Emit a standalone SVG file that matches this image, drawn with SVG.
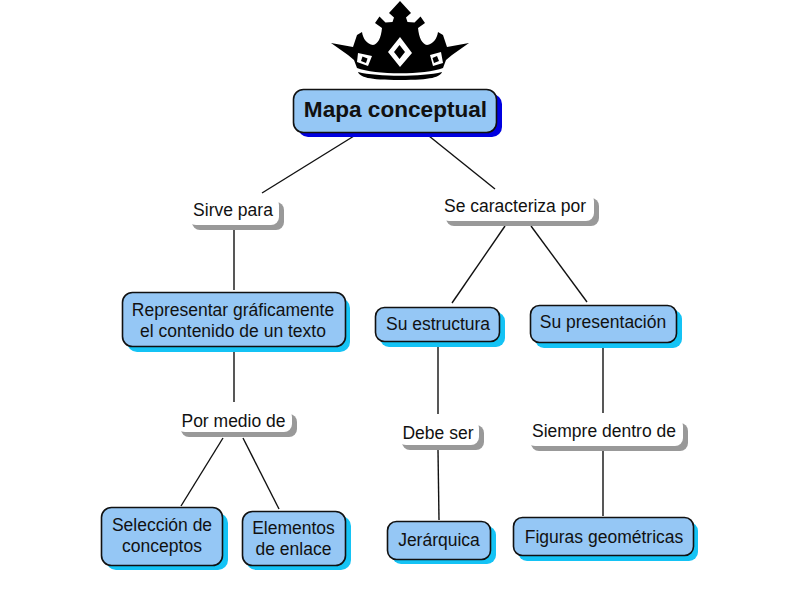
<svg xmlns="http://www.w3.org/2000/svg" width="800" height="600" viewBox="0 0 800 600">
<style>
text{font-family:"Liberation Sans",Arial,sans-serif;font-size:17.5px;fill:#111;text-anchor:middle}
.b{fill:#95c7f5;stroke:#111;stroke-width:1.6}
.s{fill:#14c3f5}
.g{fill:#999}
.w{fill:#fff}
.c line{stroke:#111;stroke-width:1.4}
</style>
<rect width="800" height="600" fill="#fff"/>
<g id="crown">
<path fill="#000" d="M400 1L411 13L406 17.500L407.500 22L414.500 22.500L420.500 16.500L425 23L418 28C419 38 422 44 427 45C433 44 437 39 438 32L443 35L447 47L469 43L452 55L446 60L443 68C425 75 375 75 357 68L354 60L348 55L331 43L353 47L357 35L362 32C363 39 367 44 373 45C378 44 381 38 382 28L375 23L379.500 16.500L385.500 22.500L392.500 22L394 17.500L389 13Z"/>
<path fill="#000" d="M358 72C378 77 422 77 442 72C440 77 432 80 400 80C368 80 360 77 358 72Z"/>
<path fill="#fff" fill-rule="evenodd" d="M400 37L412 53L400 67L388 52ZM399.500 45L394 52L399.500 59L405 52Z"/>
<path fill="#fff" fill-rule="evenodd" d="M358 53L372 56L368 66L357 62ZM362.500 56.500L361 61L366 63L367.500 58.500Z"/>
<path fill="#fff" fill-rule="evenodd" d="M441 52L443 63L433 66L430 55ZM437 56L432.500 58L434 63L439 61Z"/>
</g>
<g id="connectors" class="c">
<line x1="354" y1="136" x2="262" y2="193"/>
<line x1="429" y1="136" x2="495" y2="189"/>
<line x1="234" y1="230" x2="234" y2="290"/>
<line x1="234" y1="352" x2="234" y2="402"/>
<line x1="223" y1="438" x2="181" y2="506"/>
<line x1="243" y1="438" x2="279" y2="509"/>
<line x1="505" y1="226" x2="452" y2="303"/>
<line x1="531" y1="226" x2="587" y2="302"/>
<line x1="438" y1="345" x2="438" y2="414"/>
<line x1="438" y1="450" x2="439" y2="520"/>
<line x1="603" y1="347" x2="603" y2="413"/>
<line x1="603" y1="451" x2="603" y2="516"/>
</g>
<g id="n-mapa">
<rect x="298" y="94" width="204" height="43" rx="10" fill="#0000e0"/>
<rect x="293.500" y="89.500" width="203" height="43" rx="10" class="b"/>
<text x="395.500" y="117" style="font-size:22.600px;font-weight:bold">Mapa conceptual</text>
</g>
<g id="l-sirve">
<rect x="192" y="202" width="92" height="28" rx="8" class="g"/>
<rect x="188" y="197" width="91" height="28" rx="8" class="w"/>
<text x="233" y="216">Sirve para</text>
</g>
<g id="l-caracteriza">
<rect x="446" y="198" width="153" height="28" rx="8" class="g"/>
<rect x="441" y="193" width="153" height="28" rx="8" class="w"/>
<text x="515" y="212">Se caracteriza por</text>
</g>
<g id="n-representar">
<rect x="127" y="298" width="223" height="54" rx="10" class="s"/>
<rect x="122.500" y="292.500" width="223" height="54" rx="10" class="b"/>
<text x="233" y="316">Representar gráficamente</text>
<text x="233" y="337">el contenido de un texto</text>
</g>
<g id="n-estructura">
<rect x="380" y="312" width="125" height="35" rx="9" class="s"/>
<rect x="375.500" y="307.500" width="124" height="34" rx="9" class="b"/>
<text x="438" y="330">Su estructura</text>
</g>
<g id="n-presentacion">
<rect x="535" y="310" width="147" height="38" rx="9" class="s"/>
<rect x="530.500" y="305.500" width="146" height="37" rx="9" class="b"/>
<text x="603" y="328">Su presentación</text>
</g>
<g id="l-medio">
<rect x="181" y="414" width="116" height="23" rx="8" class="g"/>
<rect x="177" y="409" width="115" height="23" rx="8" class="w"/>
<text x="233.500" y="427">Por medio de</text>
</g>
<g id="l-debe">
<rect x="402" y="425" width="82" height="25" rx="8" class="g"/>
<rect x="398" y="420" width="81" height="25" rx="8" class="w"/>
<text x="438" y="439">Debe ser</text>
</g>
<g id="l-siempre">
<rect x="531" y="423" width="157" height="28" rx="8" class="g"/>
<rect x="527" y="418" width="156" height="28" rx="8" class="w"/>
<text x="604" y="437">Siempre dentro de</text>
</g>
<g id="n-seleccion">
<rect x="106" y="513" width="122" height="57" rx="10" class="s"/>
<rect x="101.500" y="507.500" width="121" height="58" rx="10" class="b"/>
<text x="162" y="531">Selección de</text>
<text x="162" y="552">conceptos</text>
</g>
<g id="n-elementos">
<rect x="246" y="516" width="105" height="54" rx="10" class="s"/>
<rect x="242.500" y="511.500" width="103" height="54" rx="10" class="b"/>
<text x="293.500" y="534">Elementos</text>
<text x="293.500" y="555">de enlace</text>
</g>
<g id="n-jerarquica">
<rect x="392" y="526" width="104" height="38" rx="9" class="s"/>
<rect x="387.500" y="521.500" width="103" height="38" rx="9" class="b"/>
<text x="439" y="546">Jerárquica</text>
</g>
<g id="n-figuras">
<rect x="518" y="522" width="180" height="39" rx="9" class="s"/>
<rect x="513.500" y="517.500" width="180" height="38" rx="9" class="b"/>
<text x="604" y="543">Figuras geométricas</text>
</g>
</svg>
